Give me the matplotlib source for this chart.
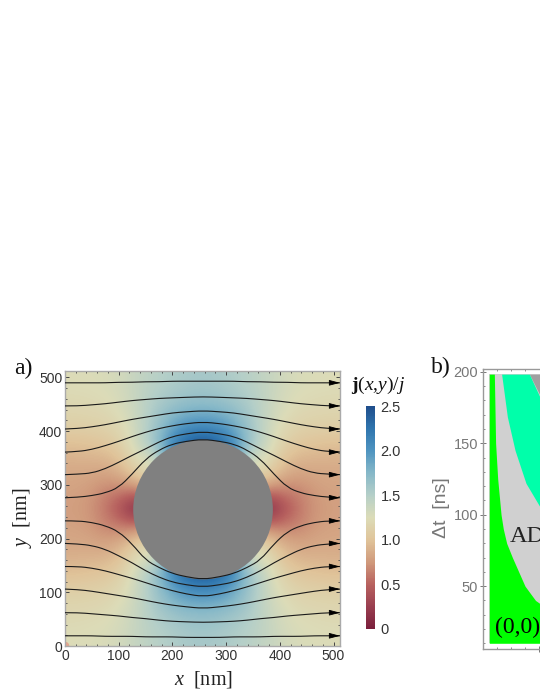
import matplotlib
matplotlib.use("Agg")
import matplotlib.pyplot as plt
import numpy as np
from matplotlib.colors import LinearSegmentedColormap
from matplotlib.patches import Circle, PathPatch, Rectangle
from matplotlib.path import Path
from matplotlib.ticker import MultipleLocator

plt.rcParams['font.family'] = ['Liberation Sans', 'DejaVu Sans']
plt.rcParams['mathtext.fontset'] = 'custom'
plt.rcParams['mathtext.rm'] = 'Liberation Serif'
plt.rcParams['mathtext.it'] = 'Liberation Serif:italic'
plt.rcParams['mathtext.bf'] = 'Liberation Serif:bold'

W, H = 540, 699

# colour scale
cbar_levels = [0, 0.25, 0.5, 0.75, 1.0, 1.25, 1.5, 1.75, 2.0, 2.25, 2.5]
cbar_colors = ['#7a1f3c', '#9a3f50', '#b8625f', '#d09a7c', '#e0c49a', '#dcdcb8',
               '#b5cfc8', '#86b8c8', '#4f94c0', '#2f75ae', '#1f4e8c']

# j(x,y)/j, lower left quarter of the map (the picture is symmetric)
grid_step = 32
quarter_j = [
    [1.25, 1.26, 1.27, 1.32, 1.40, 1.47, 1.52, 1.56, 1.58],
    [1.22, 1.23, 1.25, 1.30, 1.40, 1.50, 1.56, 1.62, 1.64],
    [1.17, 1.18, 1.20, 1.27, 1.38, 1.55, 1.70, 1.78, 1.80],
    [1.10, 1.11, 1.13, 1.20, 1.37, 1.60, 1.85, 2.05, 2.10],
    [0.98, 1.00, 1.03, 1.12, 1.35, 1.60, 2.05, 2.40, 2.50],
    [0.88, 0.89, 0.90, 1.00, 1.25, 1.30, 1.90, 2.30, 2.50],
    [0.83, 0.82, 0.78, 0.85, 1.05, 1.20, 1.60, 2.00, 2.30],
    [0.80, 0.76, 0.65, 0.60, 0.55, 0.80, 1.20, 1.80, 2.10],
    [0.78, 0.74, 0.60, 0.38, 0.00, 0.50, 1.00, 1.60, 2.00],
]

hole_x, hole_y, hole_r = 257, 254, 130

# current lines, left half, y in nm at stream_x
stream_x = [0, 25, 50, 75, 100, 125, 150, 175, 200, 225, 257]
stream_lines = [
    [490, 490, 490, 490, 491, 491, 492, 492, 493, 493, 493],
    [447, 447, 449, 451, 454, 457, 459, 461, 462, 463, 464],
    [404, 405, 408, 412, 417, 422, 426, 430, 434, 436, 438],
    [361, 362, 366, 373, 381, 390, 398, 405, 410, 414, 417],
    [319, 320, 322, 330, 342, 355, 367, 380, 390, 395, 399],
    [276, 277, 280, 285, 295, 320, 348, 365, 376, 381, 385],
    [233, 233, 230, 224, 213, 190, 160, 146, 135, 129, 124],
    [191, 190, 187, 180, 168, 155, 140, 128, 119, 114, 110],
    [148, 148, 145, 140, 133, 126, 118, 110, 103, 97, 92],
    [106, 105, 102, 98, 94, 90, 85, 80, 76, 73, 70],
    [62, 62, 60, 58, 56, 53, 51, 48, 46, 45, 44],
    [19, 19, 19, 18, 18, 18, 17, 17, 17, 16, 16],
]

# panel b, boundaries of the regions
b_green_y = [10, 30, 40, 50, 60, 70, 80, 90, 100, 125, 150, 198.4]
b_green_x = [5.2, 5.2, 3.75, 3.0, 2.55, 2.1, 1.69, 1.45, 1.29, 1.05, 0.90, 0.81]
b_spring_y = [100, 105.5, 122, 145, 168.5, 198.4]
b_spring_left = [4.6, 4.07, 3.07, 2.29, 1.74, 1.33]
b_dark_y = [150, 183.7, 198.4]
b_dark_x = [5.5, 4.07, 3.31]


def px_axes(left, top, right, bottom):
    return fig.add_axes([left / W, 1 - bottom / H, (right - left) / W, (bottom - top) / H])


def smooth_line(xs, ys):
    # points are used as control points of quadratic curves
    pts = np.column_stack([xs, ys])
    verts = [pts[0]]
    codes = [Path.MOVETO]
    for i in range(1, len(pts) - 1):
        end = pts[i + 1] if i == len(pts) - 2 else (pts[i] + pts[i + 1]) / 2
        verts += [pts[i], end]
        codes += [Path.CURVE3, Path.CURVE3]
    return Path(verts, codes)


cmap = LinearSegmentedColormap.from_list(
    'jmap', [(v / 2.5, c) for v, c in zip(cbar_levels, cbar_colors)])

fig = plt.figure(figsize=(W / 100, H / 100), dpi=100)

# panel a
ax = px_axes(65, 371, 340, 646)
q = np.array(quarter_j)
lower = np.hstack([q, q[:, -2::-1]])
field = np.vstack([lower, lower[-2::-1]])
extent_max = grid_step * (field.shape[0] - 1)
im = ax.imshow(field, origin='lower', cmap=cmap, vmin=0, vmax=2.5,
               extent=[0, extent_max, 0, extent_max], interpolation='bicubic', aspect='auto')
ax.add_patch(Circle((hole_x, hole_y), hole_r, color='#808080', zorder=3, lw=0))
ax.add_patch(Circle((0, 0), 8, color='#e3a58e', zorder=2, lw=0))

sx = np.array(stream_x)
full_x = np.r_[sx, 2 * sx[-1] - sx[-2::-1]]
for line in stream_lines:
    full_y = np.r_[line, line[-2::-1]]
    ax.add_patch(PathPatch(smooth_line(full_x, full_y), fc='none', ec='#1a1a1a', lw=0.8, zorder=4))
    ax.annotate('', xy=(512, full_y[-1]), xytext=(495, full_y[-1]), zorder=5,
                arrowprops=dict(arrowstyle='-|>,head_length=0.65,head_width=0.17', color='black',
                                lw=0.6, shrinkA=0, shrinkB=0))

ax.set_xlim(0, 512)
ax.set_ylim(0, 512)
ax.set_xticks([0, 100, 200, 300, 400, 500])
ax.set_yticks([0, 100, 200, 300, 400, 500])
ax.xaxis.set_minor_locator(MultipleLocator(20))
ax.yaxis.set_minor_locator(MultipleLocator(20))
ax.tick_params(which='major', direction='in', length=3, width=0.7, color='#444444',
               labelsize=10, labelcolor='#333333', top=True, right=True, pad=2)
ax.tick_params(which='minor', direction='in', length=1.5, width=0.6, color='#444444',
               top=True, right=True)
for s in ax.spines.values():
    s.set_color('#aaaaaa')
    s.set_linewidth(1.0)

# colorbar
cax = px_axes(366, 406, 375, 629)
cb = fig.colorbar(im, cax=cax)
cb.set_ticks([0, 0.5, 1.0, 1.5, 2.0, 2.5])
cb.set_ticklabels(['0', '0.5', '1.0', '1.5', '2.0', '2.5'])
cb.ax.tick_params(length=0, labelsize=10.5, labelcolor='#333333', pad=4)
cb.outline.set_visible(False)

# panel b, runs past the right edge of the figure
axb = px_axes(483, 369, 483 + 14 * 16, 649)
axb.add_patch(Rectangle((0.45, 10), 16, 188.4, color='#d0d0d0', lw=0))
axb.fill_betweenx(b_dark_y, b_dark_x, 16, color='#a0a0a0', lw=0)
spring_right = np.interp(b_spring_y, b_dark_y, b_dark_x, left=16)
axb.fill_betweenx(b_spring_y, b_spring_left, spring_right, color='#00ffaa', lw=0)
axb.fill_betweenx(b_green_y, 0.45, b_green_x, color='#00ff00', lw=0)
axb.set_xlim(0, 16)
axb.set_ylim(6, 202)
axb.set_yticks([50, 100, 150, 200])
axb.yaxis.set_minor_locator(MultipleLocator(10))
axb.set_xticks([4])
axb.xaxis.set_minor_locator(MultipleLocator(1))
axb.set_xticklabels([''])
axb.tick_params(which='major', direction='inout', length=5, width=0.7, color='#777777',
                labelsize=10.5, labelcolor='#777777', pad=1)
axb.tick_params(which='minor', direction='in', length=1.5, width=0.6, color='#777777',
                top=True)
for s in axb.spines.values():
    s.set_color('#999999')
    s.set_linewidth(1.0)
axb.text(0.85, 21, '(0,0)', family='Liberation Serif', fontsize=17, va='center', color='black')
axb.text(1.93, 85, 'AD', family='Liberation Serif', fontsize=17.5, va='center', color='#222222')

# labels
serif = 'Liberation Serif'
fig.text(14 / W, 1 - 368 / H, 'a)', family=serif, fontsize=17, va='center', color='#111111')
fig.text(431 / W, 1 - 367 / H, 'b)', family=serif, fontsize=17, va='center', color='#111111')
fig.text(203 / W, 1 - 680 / H, r'$x$  [nm]', family=serif, fontsize=14.5, ha='center', va='center',
         color='#222222')
fig.text(22 / W, 1 - 518 / H, r'$y$  [nm]', family=serif, fontsize=14.5, rotation=90, ha='center',
         va='center', color='#222222')
fig.text(351 / W, 1 - 385 / H, r'$\mathbf{j}(x{,}y)/j$', fontsize=14, va='center', color='#111111')
fig.text(442 / W, 1 - 508 / H, 'Δt  [ns]', fontsize=14, rotation=90, ha='center', va='center',
         color='#777777')

fig.savefig('out.png', dpi=100)
